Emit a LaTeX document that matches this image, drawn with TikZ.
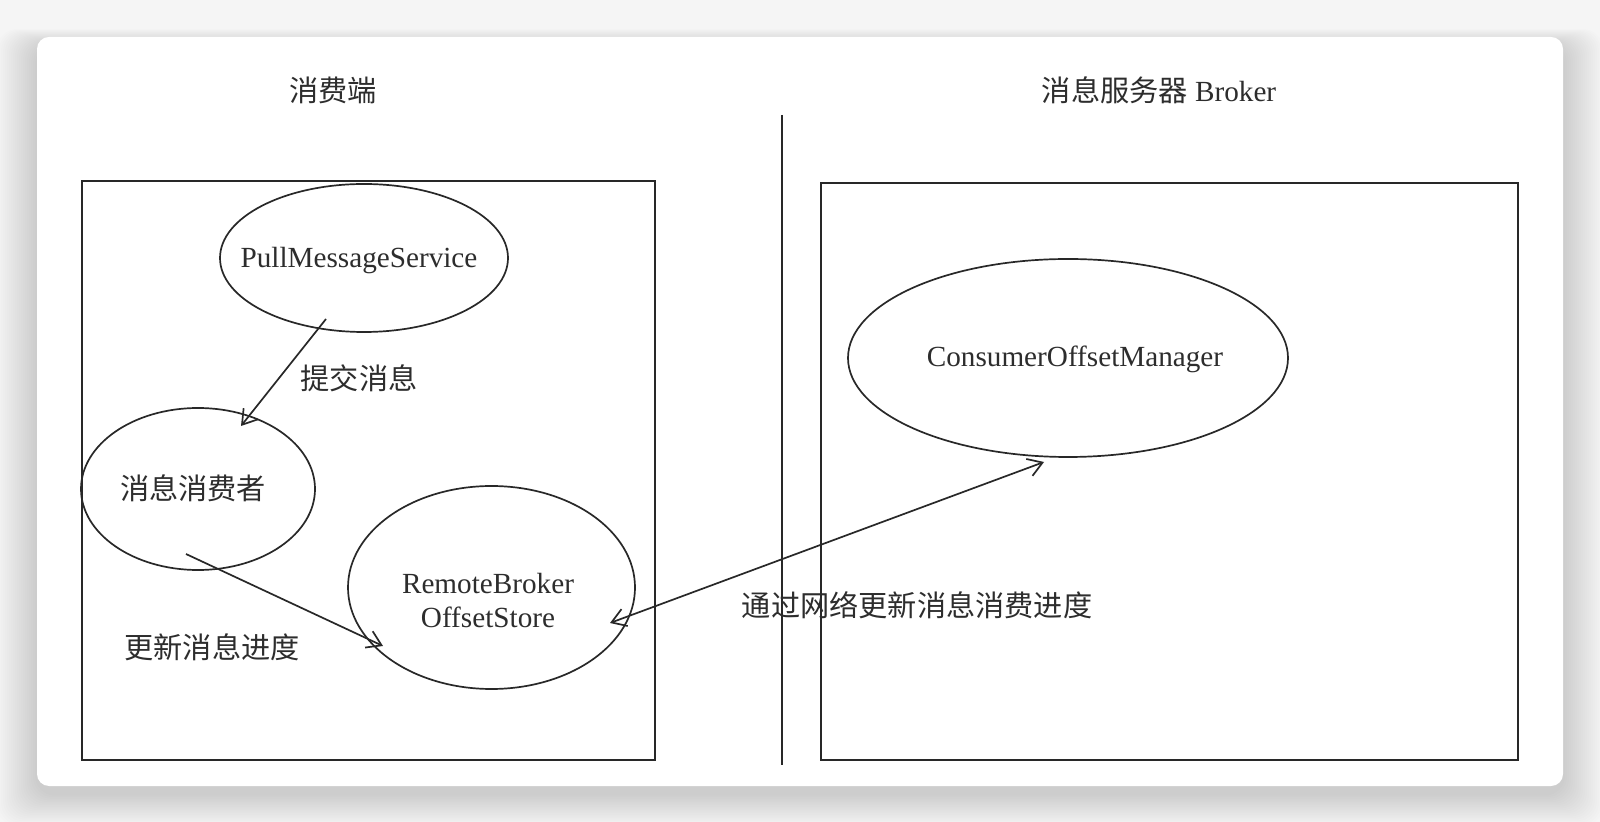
\documentclass[tikz,border=0pt]{standalone}
\usepackage{fontspec}
\setmainfont{Liberation Serif}
\newfontfamily\cjk{Noto Sans CJK SC}
\usetikzlibrary{shapes.geometric,arrows.meta}
\definecolor{pagebg}{RGB}{245,245,245}
\definecolor{ink}{RGB}{40,40,40}
\definecolor{txt}{RGB}{45,45,45}
\tikzset{
  panel/.style={draw=ink,line width=1pt,inner sep=0pt},
  oval/.style={ellipse,draw=ink,line width=0.85pt,inner sep=0pt,text=txt,
    font=\fontsize{14.6pt}{17pt}\selectfont},
  lbl/.style={text=txt,inner sep=0pt,font=\fontsize{14.6pt}{17pt}\selectfont},
  conn/.style={draw=ink,line width=0.85pt,-{Straight Barb[length=7pt,width=9pt]}},
  dconn/.style={draw=ink,line width=0.85pt,{Straight Barb[length=7pt,width=9pt]}-{Straight Barb[length=7pt,width=9pt]}}
}
\begin{document}
\begin{tikzpicture}[x=0.5pt,y=-0.5pt]
\useasboundingbox (0,0) rectangle (1600,822);
\fill[pagebg] (0,0) rectangle (1600,822);
% soft shadow
\foreach \s in {2,4,...,40}{
  \fill[black,opacity=0.007,rounded corners=10pt] (37-\s,37-0.4*\s+8) rectangle (1563+\s,786+0.8*\s+8);
}
\fill[white,rounded corners=6pt] (37,37) rectangle (1563,786);

% titles
\node[lbl] (t1) at (333,90) {\cjk 消费端};
\node[lbl] (t2) at (1159,90) {{\cjk 消息服务器} Broker};

% panels
\node[panel,minimum width=286.5pt,minimum height=289.5pt] (lp) at (368.5,470.5) {};
\node[panel,minimum width=348.5pt,minimum height=288.5pt] (rp) at (1169.5,471.5) {};

% divider
\coordinate (v1) at (782,115);
\coordinate (v2) at (782,765);
\draw[ink,line width=0.9pt] (v1) -- (v2);

% ellipses
\node[oval,minimum width=144pt,minimum height=74pt] (pms) at (364,258) {};
\node[lbl] (pmst) at (359,261) {PullMessageService};
\node[oval,minimum width=117pt,minimum height=81pt] (cons) at (198,489) {};
\node[lbl] (const) at (193,488) {\cjk 消息消费者};
\node[oval,minimum width=143.5pt,minimum height=101.5pt] (store) at (491.5,587.5) {};
\node[lbl,align=center] (storet) at (488,601) {RemoteBroker\\OffsetStore};
\node[oval,minimum width=220pt,minimum height=99pt] (com) at (1068,358) {};
\node[lbl] (comt) at (1075,359) {ConsumerOffsetManager};

% connectors
\coordinate (a1s) at (326,319);
\coordinate (a1e) at (241,426);
\draw[conn] (a1s) -- (a1e);
\node[lbl] (l1) at (359,378) {\cjk 提交消息};

\coordinate (a2s) at (186,554);
\coordinate (a2e) at (383,646);
\draw[conn] (a2s) -- (a2e);
\node[lbl] (l2) at (212,647) {\cjk 更新消息进度};

\coordinate (a3s) at (610,623);
\coordinate (a3e) at (1044,462);
\draw[dconn] (a3s) -- (a3e);
\node[lbl] (l3) at (917,605) {\cjk 通过网络更新消息消费进度};
\end{tikzpicture}
\end{document}
